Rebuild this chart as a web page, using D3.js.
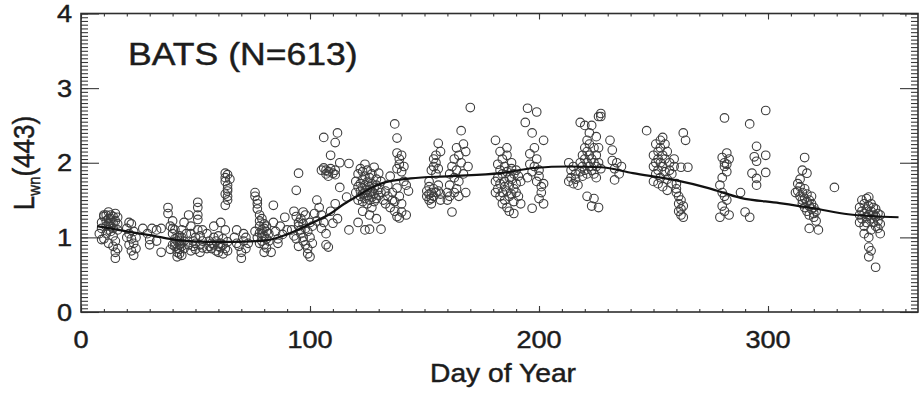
<!DOCTYPE html>
<html>
<head>
<meta charset="utf-8">
<script src="https://cdn.jsdelivr.net/npm/d3@7"></script>
<style>
  html, body { margin: 0; padding: 0; background: #fff; }
  svg { display: block; }
</style>
</head>
<body>
<div id="chart"></div>
<script>
const x_ticks = [0, 100, 200, 300];
const y_ticks = [0, 1, 2, 3, 4];
const panel_title = "BATS (N=613)";
const x_title = "Day of Year";

// smoothed seasonal fit
const fit_days = [7, 20, 30, 43, 55, 66, 81, 90, 100, 109, 115, 121, 126, 131, 144, 161, 183, 198, 213, 227, 241, 259, 274, 288, 305, 320, 335, 357];
const fit_values = [1.15, 1.08, 1.03, 0.96, 0.94, 0.94, 0.96, 1.04, 1.18, 1.32, 1.45, 1.56, 1.65, 1.72, 1.79, 1.82, 1.86, 1.93, 1.95, 1.94, 1.86, 1.77, 1.66, 1.53, 1.46, 1.39, 1.31, 1.27];

// observations [day, Lwn(443)], one line per cruise cluster
const obs = [
  [8,1.05],[9,1.12],[9,1.2],[10,1.28],[10,0.98],[11,1.15],[11,1.3],[11,1.22],[12,1.1],[12,1.18],[12,1.34],[12,0.92],[13,1.25],[13,1.15],[13,1.08],[13,1.3],[14,1.2],[14,1.02],[14,0.88],[14,1.12],[15,1.32],[15,0.8],[15,0.72],[15,0.95],[15,1.22],[16,1.1],[16,1.27],[16,0.85],[9,0.97],[10,1.3],[12,1.25],[13,1.2],[14,1.28],[11,1.05],[16,1.18],
  [20,1.0],[20,1.12],[21,0.9],[21,1.05],[22,0.82],[22,0.98],[22,1.18],[23,0.76],[23,0.92],[23,1.08],[24,0.85],[24,1.0],[21,1.2],
  [27,1.12],[29,1.05],[30,0.9],[31,1.12],[33,0.95],[33,1.1],[35,0.8],[35,1.12],[30,0.97],
  [38,1.4],[38,1.32],[39,1.15],[40,1.22],[40,1.05],[41,0.98],[41,0.92],[41,0.88],[42,1.0],[42,0.95],[42,0.85],[42,0.8],[43,0.9],[43,0.96],[43,1.02],[43,0.78],[44,0.88],[44,0.92],[44,0.76],[44,1.1],[45,0.85],[45,0.95],[45,1.2],[40,0.9],[39,0.84],[41,1.1],[43,0.84],[42,0.74],[44,1.0],[40,1.12],
  [47,1.3],[48,1.15],[48,1.05],[49,0.95],[49,0.88],[50,1.0],[50,0.92],[50,0.84],[51,1.47],[51,1.4],[51,1.3],[51,1.24],[51,1.1],[52,1.02],[52,0.9],[52,0.8],[53,0.95],[53,0.86],[47,0.9],[48,0.82],[46,1.05],[53,1.1],
  [55,1.05],[56,0.95],[56,0.88],[57,0.92],[57,0.85],[58,1.0],[58,0.9],[59,0.82],[59,0.95],[60,0.88],[60,0.8],[60,1.02],[61,0.92],[61,0.86],[62,0.98],[62,0.9],[62,0.78],[63,0.85],[63,1.1],[64,0.94],[58,1.15],[55,0.85],[61,1.2],[64,0.82],
  [63,1.86],[63,1.8],[63,1.75],[64,1.7],[64,1.65],[64,1.62],[63,1.58],[64,1.55],[64,1.5],[63,1.43],[65,1.78],[64,1.84],
  [67,1.0],[68,0.92],[69,0.88],[70,0.72],[70,0.8],[71,0.95],[71,1.05],[72,0.85],[73,0.92],[68,1.1],[72,1.0],
  [76,1.6],[76,1.55],[77,1.5],[77,1.45],[77,1.38],[78,1.3],[78,1.22],[78,1.15],[79,1.1],[79,1.05],[79,1.0],[79,0.95],[80,1.12],[80,1.18],[80,0.9],[80,1.02],[81,0.98],[81,1.08],[81,0.86],[78,0.92],[77,1.0],[76,1.08],[79,1.25],[80,0.8],[81,1.15],[82,1.05],[82,0.95],[78,1.06],
  [84,1.43],[84,1.2],[85,1.08],[86,0.98],[87,1.15],[88,1.04],[89,1.27],[90,1.1],[86,0.92],[83,0.8],
  [95,1.86],[94,1.63],[93,1.35],[94,1.28],[95,1.2],[95,1.15],[96,1.1],[96,1.05],[96,1.25],[97,1.0],[97,1.18],[97,0.95],[98,1.12],[98,0.9],[98,1.3],[99,1.08],[99,0.85],[99,0.78],[100,1.2],[100,1.0],[100,0.74],[101,1.15],[101,0.92],[94,0.98],[95,0.88],[97,1.34],[92,1.1],[93,1.02],
  [103,1.5],[104,1.4],[105,1.3],[106,1.2],[107,0.9],[108,0.87],[109,1.35],[110,1.19],[111,1.45],[112,1.25],[113,1.67],[116,1.54],[117,1.1],[117,1.99],[105,1.12],[107,1.05],[103,1.22],[102,1.32],
  [106,2.34],[112,2.4],[111,2.27],[109,2.1],[106,1.93],[107,1.9],[107,1.85],[108,1.88],[108,1.82],[109,1.92],[110,1.86],[111,1.9],[111,1.84],[105,1.9],[113,2.0],
  [120,1.6],[120,1.75],[121,1.5],[121,1.68],[121,1.85],[122,1.55],[122,1.62],[122,1.72],[122,1.92],[123,1.48],[123,1.58],[123,1.66],[123,1.78],[123,1.88],[124,1.52],[124,1.6],[124,1.7],[124,1.82],[124,1.98],[125,1.45],[125,1.56],[125,1.64],[125,1.74],[125,1.9],[126,1.5],[126,1.6],[126,1.68],[126,1.8],[126,1.3],[127,1.54],[127,1.62],[127,1.72],[127,1.85],[128,1.48],[128,1.58],[128,1.66],[128,1.94],[129,1.52],[129,1.7],[129,1.78],[130,1.56],[130,1.64],[130,1.86],[131,1.6],[131,1.75],[121,1.2],[124,1.1],[126,1.11],[131,1.11],[129,1.25],[123,1.35],[127,1.4],
  [132,1.5],[133,1.45],[133,1.62],[134,1.55],[134,1.7],[135,1.4],[135,1.82],[136,1.5],[136,1.6],[137,1.35],[137,1.48],[138,1.28],[138,1.66],[139,1.55],[140,1.45],[140,1.34],
  [137,2.52],[138,2.33],[138,2.13],[139,2.05],[139,1.98],[138,1.92],[140,1.88],[140,2.1],[141,1.95],[141,1.75],[142,1.7],[143,1.62],[139,1.26],[142,1.3],
  [151,1.55],[151,1.62],[152,1.5],[152,1.58],[152,1.68],[153,1.52],[153,1.6],[153,1.9],[154,1.55],[154,1.65],[154,1.95],[154,2.05],[155,1.6],[155,1.85],[155,2.0],[155,2.1],[156,1.7],[156,1.92],[156,2.26],[157,1.5],[157,1.58],[157,2.15],[153,1.45],[156,1.62],[152,1.75],
  [160,1.5],[160,1.6],[161,1.55],[161,1.7],[161,1.85],[162,1.95],[162,1.34],[163,1.6],[163,1.8],[163,2.05],[164,1.65],[164,2.2],[164,1.9],[165,2.1],[165,1.75],[165,1.55],[166,2.43],[166,2.0],[167,1.85],[167,2.25],[168,2.15],[168,1.6],[170,2.74],[169,1.95],
  [181,2.3],[182,1.98],[182,1.8],[182,1.65],[183,1.9],[183,1.72],[183,1.55],[184,2.05],[184,1.85],[184,1.6],[184,1.45],[185,1.95],[185,1.75],[185,1.68],[185,1.5],[186,2.1],[186,1.88],[186,1.62],[186,1.4],[187,1.8],[187,1.7],[187,1.55],[187,1.35],[188,2.0],[188,1.92],[188,1.78],[188,1.58],[189,1.85],[189,1.65],[189,1.48],[190,1.9],[190,1.72],[190,1.6],[191,1.82],[191,1.55],[192,1.75],[192,1.45],[183,2.15],[186,2.2],[189,1.32],[181,1.6],[181,1.75],
  [195,2.73],[199,2.68],[194,2.54],[197,2.4],[202,2.3],[198,2.2],[196,2.12],[199,2.05],[198,1.95],[197,1.88],[200,1.82],[200,1.9],[199,1.75],[201,1.68],[201,1.6],[200,1.52],[202,1.45],[197,1.39],[202,1.72],[196,1.98],[195,1.8],
  [213,2.0],[214,1.9],[214,1.8],[215,1.72],[215,1.95],[216,1.85],[216,1.78],[217,1.7],[213,1.75],
  [218,2.0],[218,1.88],[219,2.1],[219,1.95],[219,1.82],[220,2.2],[220,2.05],[220,1.9],[221,2.3],[221,2.15],[221,2.0],[221,1.85],[221,1.55],[222,2.25],[222,2.1],[222,1.95],[222,2.4],[223,2.05],[223,1.9],[223,2.5],[223,1.42],[224,2.2],[224,2.0],[224,1.85],[224,1.52],[225,2.35],[225,2.1],[225,1.95],[226,2.62],[226,2.2],[226,2.0],[226,1.4],[227,2.66],[227,2.62],[227,1.92],[225,1.8],[220,2.5],[218,2.54],
  [231,2.3],[232,2.17],[232,2.03],[233,1.92],[233,1.77],[234,2.0],[235,1.85],[236,1.95],
  [247,2.43],
  [250,2.1],[250,1.95],[251,2.25],[251,2.0],[251,1.85],[252,2.15],[252,2.05],[252,1.9],[252,1.72],[253,2.3],[253,2.2],[253,2.0],[253,1.8],[254,2.1],[254,1.95],[254,1.68],[255,2.25],[255,2.05],[255,1.88],[256,2.15],[256,1.78],[256,1.63],[257,2.0],[257,1.9],[258,1.85],[258,1.72],[259,2.05],[259,1.95],[250,1.75],[254,2.34],
  [263,2.4],[264,2.3],[262,1.94],[265,1.94],[260,1.72],[260,1.6],[261,1.55],[261,1.45],[262,1.5],[262,1.38],[262,1.3],[263,1.27],[261,1.35],[260,1.65],[263,1.42],
  [281,2.6],[282,2.13],[280,2.07],[281,2.0],[281,1.95],[282,1.88],[280,1.8],[283,2.05],[279,1.7],[280,1.6],[281,1.55],[282,1.5],[280,1.42],[281,1.35],[279,1.27],[283,1.3],[282,1.98],
  [288,1.6],[290,1.34],[292,1.27],[292,2.52],[299,2.7],[295,2.22],[299,2.1],[294,2.08],[295,2.02],[295,1.79],[299,1.87],[295,1.7],[293,1.86],
  [316,2.07],[315,1.9],[317,1.86],[313,1.72],[313,1.62],[314,1.68],[314,1.55],[315,1.6],[315,1.5],[315,1.45],[316,1.65],[316,1.52],[316,1.4],[317,1.58],[317,1.48],[317,1.35],[318,1.5],[318,1.42],[318,1.3],[319,1.45],[319,1.38],[320,1.4],[320,1.32],[320,1.27],[321,1.35],[321,1.22],[318,1.12],[322,1.1],[312,1.6],[319,1.55],[314,1.78],[329,1.67],
  [340,1.4],[340,1.3],[340,1.2],[341,1.5],[341,1.35],[341,1.25],[342,1.45],[342,1.32],[342,1.15],[342,1.05],[343,1.52],[343,1.38],[343,1.28],[343,1.2],[344,1.54],[344,1.42],[344,1.3],[344,1.0],[344,0.87],[345,1.45],[345,1.35],[345,1.25],[345,1.1],[345,0.82],[346,1.4],[346,1.3],[346,1.2],[344,0.74],[347,1.38],[347,1.28],[347,1.15],[348,1.32],[348,1.22],[348,1.12],[347,0.6],[349,1.3],[349,1.18],[349,1.05]
];

const width = 923;
const height = 396;
const margins = { left: 81, right: 5, top: 13.5, bottom: 84 };
const w = width - margins.left - margins.right;
const h = height - margins.top - margins.bottom;

const text_settings = {
  family: "'Liberation Sans', Arial, Helvetica, sans-serif",
  color: "#1c1c1c",
  stretch: 1.13, // glyphs in the figure are a little wide
  weight_stroke: 0.45,
};

const svg = d3
  .select("#chart")
  .append("svg")
  .attr("width", width)
  .attr("height", height);

const g = svg
  .append("g")
  .attr("transform", `translate(${margins.left}, ${margins.top})`);

const X = d3.scaleLinear().domain([0, 365.5]).range([0, w]);
const Y = d3.scaleLinear().domain([0, 4]).range([h, 0]);

// ticks, inward on all four sides (IDL style)
const x_minor = d3.range(0, 361, 10);
const y_minor = d3.range(0, 80.5, 1).map((i) => i * 0.05);

const axis_specs = [
  { make: () => d3.axisBottom(X), tr: `translate(0, ${h})`, minor: x_minor, major: x_ticks, sizes: [3, 6] },
  { make: () => d3.axisTop(X), tr: "translate(0, 0)", minor: x_minor, major: x_ticks, sizes: [3, 6] },
  { make: () => d3.axisLeft(Y), tr: "translate(0, 0)", minor: y_minor, major: y_ticks, sizes: [7, 18] },
  { make: () => d3.axisRight(Y), tr: `translate(${w}, 0)`, minor: y_minor, major: y_ticks, sizes: [7, 18] },
];

axis_specs.forEach((spec) => {
  [
    [spec.minor, spec.sizes[0]],
    [spec.major, spec.sizes[1]],
  ].forEach(([vals, size]) => {
    const ax = g
      .append("g")
      .attr("transform", spec.tr)
      .call(spec.make().tickValues(vals).tickSize(-size).tickFormat(""));
    ax.select(".domain").remove();
    ax.selectAll("line").attr("stroke", "#3a3a3a").attr("stroke-width", 1.1);
  });
});

g.append("rect")
  .attr("width", w)
  .attr("height", h)
  .attr("fill", "none")
  .attr("stroke", "#2e2e2e")
  .attr("stroke-width", 1.6);

// data points
g.append("g")
  .selectAll("circle")
  .data(obs)
  .enter()
  .append("circle")
  .attr("cx", (d) => X(d[0]))
  .attr("cy", (d) => Y(d[1]))
  .attr("r", 4.3)
  .attr("fill", "none")
  .attr("stroke", "#3d3d3d")
  .attr("stroke-width", 1.1);

// seasonal fit
const fit_line = d3
  .line()
  .curve(d3.curveMonotoneX)
  .x((d, i) => X(fit_days[i]))
  .y((d) => Y(d));

g.append("path")
  .attr("d", fit_line(fit_values))
  .attr("fill", "none")
  .attr("stroke", "#111")
  .attr("stroke-width", 2.2);

// text helper, stretched horizontally around its anchor point
function add_text(parent, x, y, str, size, anchor) {
  return parent
    .append("text")
    .attr("transform", `translate(${x}, ${y}) scale(${text_settings.stretch}, 1)`)
    .attr("text-anchor", anchor)
    .attr("font-family", text_settings.family)
    .attr("font-size", size)
    .attr("fill", text_settings.color)
    .attr("stroke", text_settings.color)
    .attr("stroke-width", text_settings.weight_stroke)
    .text(str);
}

x_ticks.forEach((t) => add_text(g, X(t), h + 36, t, 24, "middle"));
y_ticks.forEach((t) => add_text(g, -9, Y(t) + 8.5, t, 24, "end"));

add_text(g, 422, h + 70, x_title, 25, "middle");
add_text(g, 47, 51, panel_title, 31.5, "start");

// y title with subscript, rotated
const y_title = svg
  .append("text")
  .attr("transform", `translate(34, 163) scale(1.1, 1) rotate(-90)`)
  .attr("text-anchor", "middle")
  .attr("font-family", text_settings.family)
  .attr("font-size", 26)
  .attr("fill", text_settings.color)
  .attr("stroke", text_settings.color)
  .attr("stroke-width", text_settings.weight_stroke);
y_title.append("tspan").text("L");
y_title.append("tspan").attr("font-size", 15).attr("dy", 5).text("wn");
y_title.append("tspan").attr("dy", -5).text("(443)");
</script>
</body>
</html>
